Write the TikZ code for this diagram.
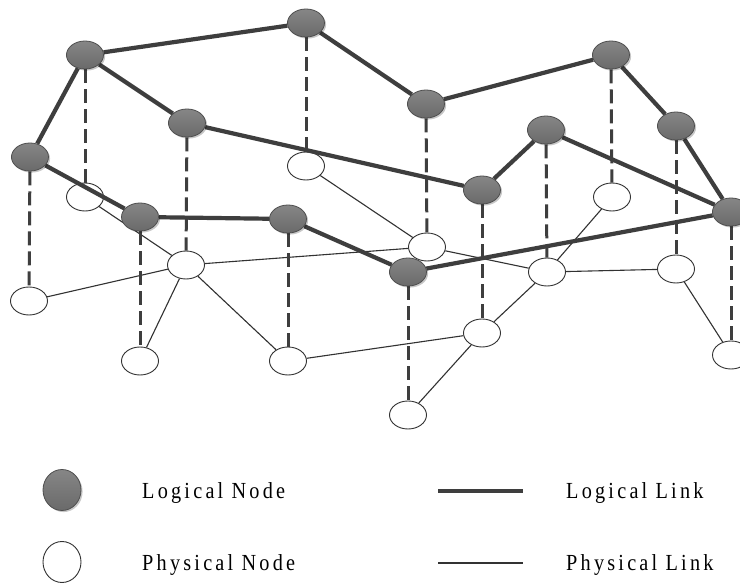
\documentclass[tikz,border=0pt]{standalone}
\usepackage{fontspec}
\setmainfont{Liberation Serif}
\newfontfamily\legendfont[LetterSpace=14,FakeStretch=0.88]{Liberation Serif}
\usetikzlibrary{shapes.geometric,shadows}

\pgfdeclarelayer{bg}
\pgfdeclarelayer{plinks}
\pgfdeclarelayer{pnodes}
\pgfdeclarelayer{vlinks}
\pgfdeclarelayer{llinks}
\pgfsetlayers{bg,plinks,pnodes,vlinks,llinks,main}

\definecolor{linkdark}{RGB}{62,62,62}
\definecolor{thinlink}{RGB}{50,50,50}
\definecolor{lnodetop}{RGB}{134,134,134}
\definecolor{lnodebot}{RGB}{106,106,106}
\definecolor{lnodeborder}{RGB}{78,78,78}

\tikzset{
  lnode/.style={ellipse, inner sep=0pt, minimum width=37pt, minimum height=28pt,
    draw=lnodeborder, line width=0.8pt, top color=lnodetop, bottom color=lnodebot,
    drop shadow={shadow xshift=1.6pt, shadow yshift=-1.6pt, opacity=0.22, fill=black}},
  pnode/.style={ellipse, inner sep=0pt, minimum width=37pt, minimum height=28pt,
    draw=thinlink, line width=0.9pt, fill=white},
  llink/.style={draw=linkdark, line width=4.2pt},
  plink/.style={draw=thinlink, line width=1.1pt},
  vlink/.style={draw=linkdark, line width=3pt, dash pattern=on 14pt off 6pt},
  legendtext/.style={anchor=base west, inner sep=0pt, font=\legendfont\fontsize{23}{27}\selectfont, text=black}
}

\begin{document}
\begin{tikzpicture}[x=1pt, y=-1pt]
\begin{pgfonlayer}{bg}
\fill[white] (0,0) rectangle (740,585);
\end{pgfonlayer}
\useasboundingbox (0,0) rectangle (740,585);

% physical layer
\begin{pgfonlayer}{pnodes}
\node[pnode] (P1)  at (85,197)  {};
\node[pnode] (P2)  at (306,166) {};
\node[pnode] (P3)  at (612,197) {};
\node[pnode] (P4)  at (186,265) {};
\node[pnode] (P5)  at (29,301)  {};
\node[pnode] (P6)  at (140,361) {};
\node[pnode] (P7)  at (288,361) {};
\node[pnode] (P8)  at (427,247) {};
\node[pnode] (P9)  at (547,272) {};
\node[pnode] (P10) at (676,269) {};
\node[pnode] (P11) at (482,333) {};
\node[pnode] (P12) at (408,415) {};
\node[pnode] (P13) at (731,355) {};
\end{pgfonlayer}

% logical layer
\node[lnode] (L1)  at (85,55)   {};
\node[lnode] (L2)  at (306,23)  {};
\node[lnode] (L3)  at (187,123) {};
\node[lnode] (L4)  at (30,157)  {};
\node[lnode] (L5)  at (426,104) {};
\node[lnode] (L6)  at (611,55)  {};
\node[lnode] (L7)  at (546,130) {};
\node[lnode] (L8)  at (676,126) {};
\node[lnode] (L9)  at (482,190) {};
\node[lnode] (L10) at (731,212) {};
\node[lnode] (L11) at (140,217) {};
\node[lnode] (L12) at (288,219) {};
\node[lnode] (L13) at (408,272) {};

% physical links
\begin{pgfonlayer}{plinks}
\foreach \a/\b in {P1/P4, P2/P8, P3/P9, P4/P5, P4/P6, P4/P7, P4/P8,
                   P7/P11, P8/P9, P9/P10, P9/P11, P10/P13, P11/P12}
  \draw[plink] (\a) -- (\b);
\end{pgfonlayer}

% mapping of logical onto physical nodes
\begin{pgfonlayer}{vlinks}
\foreach \a/\b in {L1/P1, L2/P2, L3/P4, L4/P5, L5/P8, L6/P3, L7/P9,
                   L8/P10, L9/P11, L10/P13, L11/P6, L12/P7, L13/P12}
  \draw[vlink] (\a) -- (\b);
\end{pgfonlayer}

% logical links
\begin{pgfonlayer}{llinks}
\foreach \a/\b in {L1/L2, L1/L3, L1/L4, L2/L5, L5/L6, L6/L8, L8/L10,
                   L3/L9, L9/L7, L7/L10, L4/L11, L11/L12, L12/L13, L13/L10}
  \draw[llink] (\a) -- (\b);
\end{pgfonlayer}

% legend
\node[lnode, minimum width=38pt, minimum height=41pt] (keyL) at (62,490) {};
\node[pnode, minimum width=38pt, minimum height=41pt] (keyP) at (62,562) {};
\node[legendtext] (keyLtext) at (142,499) {Logical Node};
\node[legendtext] (keyPtext) at (142,571) {Physical Node};
\coordinate (klA) at (438,491);
\coordinate (klB) at (523,491);
\coordinate (kpA) at (438,563);
\coordinate (kpB) at (523,563);
\draw[llink, line width=4.5pt] (klA) -- (klB);
\draw[plink] (kpA) -- (kpB);
\node[legendtext] (keyLLtext) at (566,499) {Logical Link};
\node[legendtext] (keyPLtext) at (566,571) {Physical Link};
\end{tikzpicture}
\end{document}
